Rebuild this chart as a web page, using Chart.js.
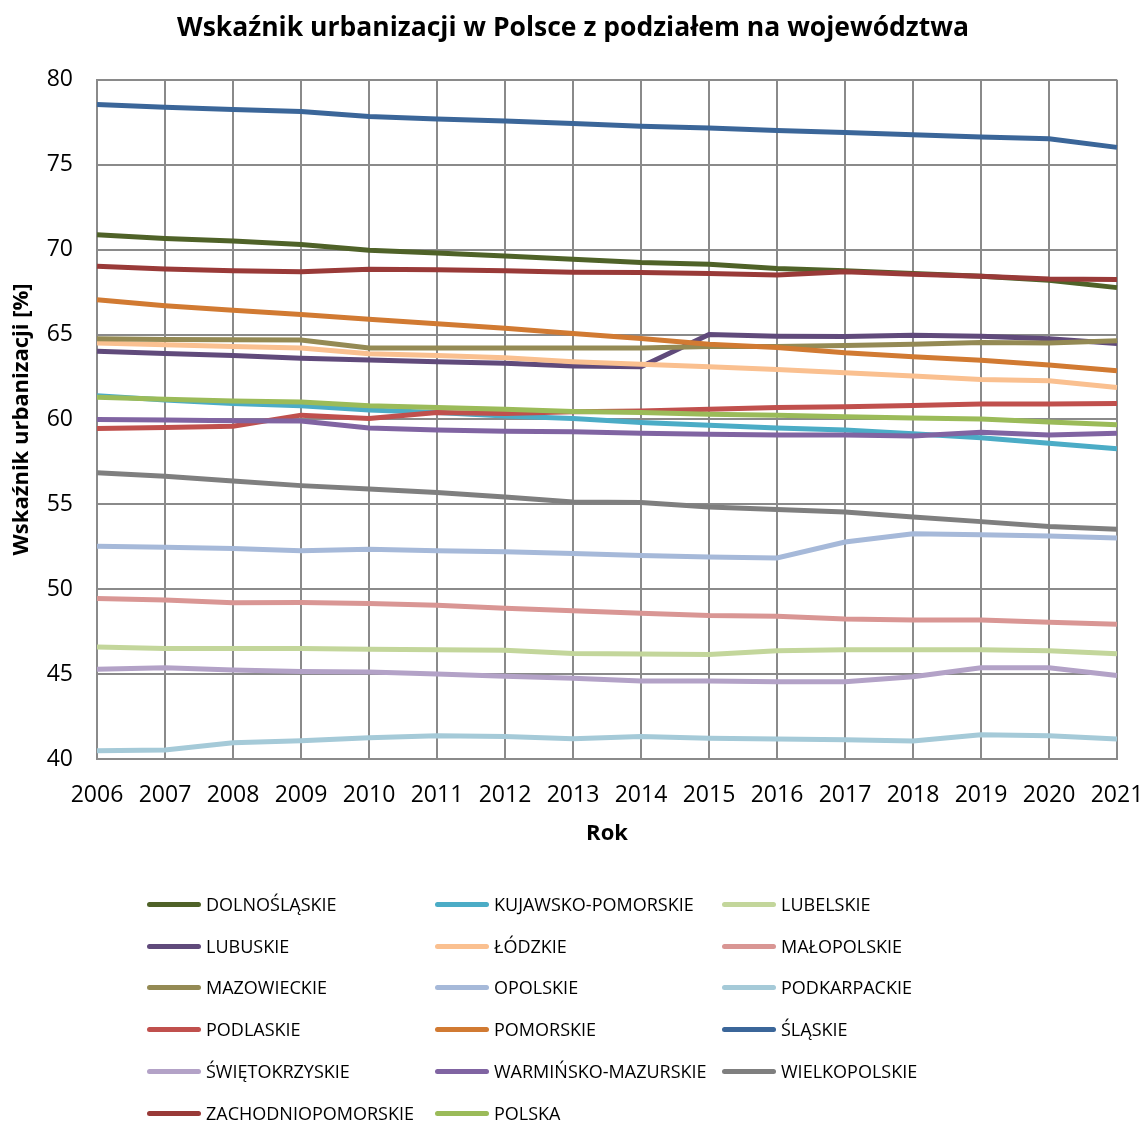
<!DOCTYPE html>
<html lang="pl">
<head>
<meta charset="utf-8">
<title>Wskaźnik urbanizacji w Polsce</title>
<script src="https://cdn.jsdelivr.net/npm/chart.js@4.4.0/dist/chart.umd.min.js"></script>
<style>
    body { margin: 0; background: #fff; }
    #wrap { position: relative; width: 1146px; height: 1122px; }
    #chart { position: absolute; left: 0; top: 0; }
    #legend { position: absolute; left: 0; top: 0; font-family: 'Open Sans', sans-serif; font-size: 18px; color: #000; }
    .item { position: absolute; display: flex; align-items: center; white-space: nowrap; }
    .swatch { width: 54px; height: 5px; border-radius: 3px; margin-right: 5px; }
</style>
</head>
<body>
<div id="wrap">
    <canvas id="chart" width="1146" height="1122"></canvas>
    <div id="legend"></div>
</div>
<script>
// Data
const years = ['2006', '2007', '2008', '2009', '2010', '2011', '2012', '2013', '2014', '2015', '2016', '2017', '2018', '2019', '2020', '2021'];
const yTicks = [40, 45, 50, 55, 60, 65, 70, 75, 80];

const dolnoslaskie = [70.88, 70.65, 70.5, 70.3, 69.96, 69.8, 69.63, 69.43, 69.24, 69.14, 68.88, 68.75, 68.59, 68.43, 68.2, 67.76];
const kujawskoPomorskie = [61.4, 61.14, 60.94, 60.8, 60.55, 60.4, 60.2, 60.06, 59.82, 59.65, 59.5, 59.37, 59.16, 58.92, 58.6, 58.27];
const lubelskie = [46.59, 46.51, 46.51, 46.51, 46.47, 46.43, 46.41, 46.22, 46.18, 46.16, 46.37, 46.43, 46.43, 46.43, 46.37, 46.2];
const lubuskie = [64.02, 63.88, 63.76, 63.6, 63.5, 63.4, 63.3, 63.14, 63.1, 65.0, 64.9, 64.88, 64.96, 64.9, 64.75, 64.47];
const lodzkie = [64.5, 64.4, 64.3, 64.2, 63.86, 63.76, 63.63, 63.4, 63.25, 63.1, 62.94, 62.75, 62.55, 62.35, 62.27, 61.88];
const malopolskie = [49.45, 49.37, 49.2, 49.22, 49.16, 49.06, 48.88, 48.73, 48.59, 48.45, 48.41, 48.25, 48.18, 48.18, 48.06, 47.94];
const mazowieckie = [64.75, 64.7, 64.69, 64.67, 64.2, 64.2, 64.2, 64.2, 64.2, 64.3, 64.3, 64.35, 64.43, 64.53, 64.5, 64.63];
const opolskie = [52.53, 52.47, 52.39, 52.27, 52.35, 52.27, 52.2, 52.1, 51.98, 51.9, 51.84, 52.78, 53.27, 53.2, 53.14, 53.02];
const podkarpackie = [40.49, 40.53, 40.96, 41.08, 41.25, 41.37, 41.33, 41.2, 41.33, 41.22, 41.18, 41.14, 41.06, 41.43, 41.37, 41.18];
const podlaskie = [59.47, 59.53, 59.6, 60.25, 60.06, 60.4, 60.35, 60.45, 60.5, 60.6, 60.7, 60.75, 60.82, 60.9, 60.9, 60.94];
const pomorskie = [67.04, 66.7, 66.43, 66.18, 65.9, 65.63, 65.37, 65.06, 64.76, 64.43, 64.24, 63.92, 63.69, 63.49, 63.2, 62.86];
const slaskie = [78.55, 78.39, 78.25, 78.14, 77.84, 77.69, 77.57, 77.43, 77.27, 77.16, 77.02, 76.9, 76.76, 76.63, 76.53, 76.02];
const swietokrzyskie = [45.29, 45.37, 45.24, 45.16, 45.12, 45.0, 44.88, 44.75, 44.6, 44.6, 44.55, 44.55, 44.84, 45.37, 45.37, 44.92];
const warminskoMazurskie = [60.0, 59.96, 59.92, 59.9, 59.5, 59.37, 59.3, 59.27, 59.18, 59.12, 59.08, 59.08, 59.02, 59.25, 59.08, 59.18];
const wielkopolskie = [56.86, 56.65, 56.37, 56.1, 55.9, 55.69, 55.43, 55.14, 55.1, 54.84, 54.69, 54.55, 54.25, 53.98, 53.69, 53.53];
const zachodniopomorskie = [69.02, 68.86, 68.75, 68.69, 68.84, 68.82, 68.76, 68.67, 68.65, 68.59, 68.5, 68.69, 68.55, 68.43, 68.27, 68.24];
const polska = [61.3, 61.18, 61.08, 61.02, 60.8, 60.7, 60.6, 60.47, 60.4, 60.3, 60.24, 60.16, 60.08, 60.02, 59.84, 59.69];

const seriesNames = ['DOLNOŚLĄSKIE', 'KUJAWSKO-POMORSKIE', 'LUBELSKIE', 'LUBUSKIE', 'ŁÓDZKIE', 'MAŁOPOLSKIE',
    'MAZOWIECKIE', 'OPOLSKIE', 'PODKARPACKIE', 'PODLASKIE', 'POMORSKIE', 'ŚLĄSKIE',
    'ŚWIĘTOKRZYSKIE', 'WARMIŃSKO-MAZURSKIE', 'WIELKOPOLSKIE', 'ZACHODNIOPOMORSKIE', 'POLSKA'];
const seriesValues = [dolnoslaskie, kujawskoPomorskie, lubelskie, lubuskie, lodzkie, malopolskie,
    mazowieckie, opolskie, podkarpackie, podlaskie, pomorskie, slaskie,
    swietokrzyskie, warminskoMazurskie, wielkopolskie, zachodniopomorskie, polska];

const colors = ['#4f6228', '#4bacc6', '#c3d69b', '#604a7b', '#fac090', '#d99694',
    '#948a54', '#a6b9d9', '#a5cad8', '#c0504d', '#d17a32', '#3b6699',
    '#b3a2c7', '#8064a2', '#7f7f7f', '#993a38', '#9bbb59'];

const FONT = "'Open Sans', sans-serif";
const gridColor = '#8a8a8a';

// Later series drawn on top, like in the spreadsheet
const datasets = seriesNames.map((name, i) => ({
    label: name,
    data: seriesValues[i],
    borderColor: colors[i],
    backgroundColor: colors[i],
    borderWidth: 5,
    pointRadius: 0,
    tension: 0,
    fill: false,
    order: seriesNames.length - i
}));

new Chart(document.getElementById('chart').getContext('2d'), {
    type: 'line',
    data: { labels: years, datasets: datasets },
    options: {
        responsive: false,
        animation: false,
        layout: { padding: { left: 0, right: 0, top: 0, bottom: 275 } },
        plugins: {
            legend: { display: false },
            tooltip: { enabled: false },
            title: {
                display: true,
                text: 'Wskaźnik urbanizacji w Polsce z podziałem na województwa',
                color: '#000',
                font: { family: FONT, size: 26.5, weight: 'bold' },
                padding: { top: 13, bottom: 35 }
            }
        },
        scales: {
            x: {
                offset: false,
                afterFit: scale => {
                    // fixed axis height and room on the right for the last label
                    scale.height = 88;
                    scale.paddingLeft = 0;
                    scale.paddingRight = 29;
                },
                grid: { color: gridColor, lineWidth: 2, drawTicks: false },
                border: { color: gridColor, width: 2 },
                ticks: { color: '#000', padding: 23, maxRotation: 0, font: { family: FONT, size: 23 } },
                title: {
                    display: true,
                    text: 'Rok',
                    color: '#000',
                    font: { family: FONT, size: 22, weight: 'bold' },
                    padding: { top: 0, bottom: 0 }
                }
            },
            y: {
                min: 40,
                max: 80,
                afterBuildTicks: scale => { scale.ticks = yTicks.map(v => ({ value: v })); },
                afterFit: scale => { scale.width = 97; },
                grid: { color: gridColor, lineWidth: 2, drawTicks: false },
                border: { color: gridColor, width: 2 },
                ticks: { color: '#000', padding: 24, font: { family: FONT, size: 23 } },
                title: {
                    display: true,
                    text: 'Wskaźnik urbanizacji [%]',
                    color: '#000',
                    font: { family: FONT, size: 22, weight: 'bold' },
                    padding: { top: 9, bottom: 0 }
                }
            }
        }
    }
});

// Legend in three columns, as in the reference
const legend = document.getElementById('legend');
const colX = [147, 435, 722];
const rowY = [904, 946, 987, 1029, 1071, 1113];
seriesNames.forEach((name, i) => {
    const item = document.createElement('div');
    item.className = 'item';
    item.style.left = colX[i % 3] + 'px';
    item.style.top = (rowY[Math.floor(i / 3)] - 12) + 'px';
    item.style.height = '24px';
    item.innerHTML = `<span class="swatch" style="background:${colors[i]}"></span><span>${name}</span>`;
    legend.appendChild(item);
});
</script>
</body>
</html>
